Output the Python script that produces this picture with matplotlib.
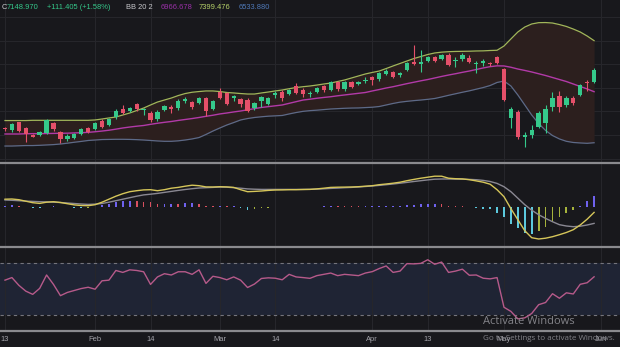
import numpy as np
import matplotlib
matplotlib.use("Agg")
import matplotlib.pyplot as plt
from matplotlib.lines import Line2D


# daily candles
opens = [6656, 6642, 6707, 6656, 6602, 6599, 6614, 6698, 6622, 6563,
         6576, 6608, 6656, 6647, 6721, 6684, 6749, 6817, 6803, 6862,
         6809, 6788, 6732, 6811, 6834, 6831, 6890, 6877, 6868, 6910,
         6817, 6966, 6953, 6910, 6902, 6896, 6826, 6890, 6862, 6936,
         6966, 6947, 7017, 6981, 6947, 6966, 7015, 6981, 7049, 6987,
         7049, 7032, 7055, 7094, 7077, 7117, 7131, 7106, 7150, 7216,
         7201, 7229, 7263, 7241, 7280, 7224, 7241, 7250, 7199, 7207,
         7212, 7258, 7156, 6741, 6797, 6580, 6599, 6670, 6704, 6834,
         6930, 6854, 6910, 6938, 7051, 7045]
highs = [6665, 6699, 6712, 6665, 6608, 6633, 6735, 6712, 6633, 6605,
         6619, 6656, 6665, 6712, 6732, 6743, 6817, 6854, 6839, 6873,
         6831, 6800, 6811, 6854, 6854, 6902, 6924, 6890, 6924, 6924,
         6896, 6995, 6966, 6938, 6916, 6910, 6877, 6933, 6924, 6972,
         6981, 6992, 7038, 6995, 6975, 7009, 7023, 7057, 7057, 7060,
         7057, 7060, 7089, 7100, 7136, 7156, 7142, 7136, 7216, 7362,
         7320, 7272, 7272, 7284, 7292, 7263, 7292, 7278, 7229, 7241,
         7221, 7269, 7165, 6834, 6811, 6627, 6684, 6805, 6854, 6966,
         6975, 6930, 6930, 7032, 7066, 7165]
lows = [6636, 6628, 6628, 6542, 6580, 6591, 6605, 6636, 6529, 6551,
        6563, 6599, 6619, 6642, 6656, 6675, 6737, 6777, 6794, 6805,
        6769, 6709, 6721, 6803, 6788, 6811, 6873, 6817, 6860, 6760,
        6811, 6902, 6854, 6890, 6839, 6797, 6811, 6834, 6854, 6916,
        6890, 6936, 6947, 6924, 6919, 6958, 6966, 6972, 6975, 6975,
        6995, 7023, 7043, 7023, 7060, 7108, 7080, 7094, 7142, 7193,
        7136, 7221, 7221, 7233, 7184, 7178, 7229, 7207, 7122, 7184,
        7187, 7201, 6888, 6656, 6563, 6500, 6571, 6656, 6614, 6805,
        6797, 6834, 6854, 6930, 6975, 7038]
closes = [6648, 6693, 6636, 6608, 6585, 6622, 6726, 6647, 6563, 6593,
          6608, 6647, 6625, 6704, 6670, 6735, 6805, 6783, 6831, 6817,
          6817, 6726, 6797, 6845, 6822, 6890, 6907, 6839, 6916, 6805,
          6888, 6910, 6862, 6930, 6862, 6805, 6868, 6924, 6916, 6953,
          6916, 6981, 6958, 6947, 6958, 7000, 6981, 7049, 6989, 7051,
          7009, 7051, 7066, 7066, 7122, 7145, 7094, 7128, 7207, 7201,
          7218, 7263, 7229, 7275, 7193, 7235, 7278, 7216, 7212, 7229,
          7199, 7212, 6896, 6820, 6585, 6599, 6642, 6788, 6817, 6916,
          6834, 6910, 6873, 7023, 7037.565, 7148.97]

# Bollinger Bands (20, 2)
bb_upper = [6722, 6722, 6722, 6722, 6724, 6724, 6724, 6724, 6724, 6724,
            6724, 6724, 6724, 6727, 6735, 6744, 6752, 6769, 6786, 6807,
            6828, 6854, 6879, 6896, 6913, 6934, 6951, 6962, 6968, 6973,
            6973, 6968, 6960, 6956, 6951, 6947, 6947, 6956, 6964, 6973,
            6981, 6992, 7002, 7009, 7015, 7023, 7032, 7040, 7053, 7066,
            7083, 7100, 7117, 7130, 7142, 7163, 7185, 7206, 7227, 7248,
            7265, 7282, 7295, 7302, 7306, 7308, 7309, 7310, 7312, 7313,
            7316, 7318, 7354, 7414, 7473, 7515, 7541, 7552, 7553, 7549,
            7536, 7520, 7498, 7473, 7439, 7399.476]
bb_basis = [6608, 6608, 6608, 6610, 6611, 6611, 6612, 6613, 6614, 6615,
            6617, 6619, 6622, 6627, 6633, 6640, 6649, 6659, 6667, 6674,
            6680, 6690, 6699, 6707, 6714, 6723, 6731, 6739, 6748, 6758,
            6767, 6778, 6786, 6795, 6803, 6813, 6823, 6833, 6840, 6847,
            6854, 6868, 6882, 6896, 6903, 6911, 6918, 6924, 6932, 6939,
            6946, 6953, 6960, 6973, 6985, 6998, 7009, 7022, 7035, 7047,
            7059, 7070, 7083, 7096, 7108, 7119, 7131, 7142, 7155, 7168,
            7179, 7186, 7185, 7174, 7159, 7147, 7134, 7119, 7104, 7087,
            7070, 7053, 7032, 7011, 6990, 6966.678]
bb_lower = [6506, 6506, 6508, 6510, 6510, 6512, 6515, 6518, 6523, 6530,
            6538, 6545, 6553, 6557, 6561, 6562, 6563, 6563, 6562, 6560,
            6557, 6553, 6549, 6546, 6546, 6550, 6557, 6566, 6578, 6604,
            6633, 6659, 6684, 6705, 6727, 6739, 6748, 6754, 6759, 6762,
            6765, 6778, 6790, 6800, 6806, 6810, 6815, 6820, 6823, 6826,
            6828, 6829, 6832, 6835, 6841, 6854, 6867, 6878, 6885, 6891,
            6896, 6902, 6909, 6922, 6936, 6949, 6962, 6974, 6988, 7002,
            7019, 7045, 7057, 7015, 6939, 6854, 6769, 6697, 6638, 6595,
            6566, 6546, 6536, 6532, 6529, 6533.88]

# MACD (12, 26, 9)
macd_line = [7.5, 7.7, 7.0, 5.5, 4.0, 3.3, 4.5, 5.0, 4.2, 3.0,
             1.8, 1.2, 1.0, 2.0, 4.5, 7.5, 10.5, 13.0, 15.0, 16.0,
             16.8, 17.0, 16.0, 17.0, 18.5, 19.3, 20.5, 21.5, 21.0, 19.8,
             19.7, 20.0, 19.8, 19.3, 17.0, 15.0, 15.3, 15.7, 16.3, 16.7,
             16.8, 17.0, 17.0, 17.2, 17.3, 17.8, 18.5, 19.3, 19.5, 19.6,
             19.7, 20.0, 20.5, 21.0, 22.0, 22.7, 23.5, 24.5, 26.0, 27.3,
             28.5, 29.5, 30.5, 30.5, 28.5, 28.0, 27.8, 27.0, 25.8, 24.5,
             22.5, 17.0, 10.0, -2.0, -13.0, -24.0, -31.0, -32.3, -31.5, -30.0,
             -28.0, -25.8, -23.0, -18.3, -12.5, -5.7]
macd_signal = [6.7, 6.4, 6.0, 5.6, 5.3, 5.0, 4.8, 4.5, 4.2, 3.7,
               3.2, 2.7, 2.3, 2.6, 3.2, 4.5, 6.0, 7.5, 9.0, 10.5,
               11.8, 12.5, 13.3, 14.3, 15.3, 16.3, 17.2, 18.0, 18.7, 19.0,
               19.3, 19.6, 19.5, 19.0, 18.5, 17.8, 17.5, 17.3, 17.3, 17.3,
               17.3, 17.3, 17.3, 17.3, 17.4, 17.6, 17.9, 18.3, 18.6, 19.0,
               19.3, 19.7, 20.2, 20.7, 21.3, 22.0, 22.7, 23.5, 24.3, 25.2,
               26.0, 26.8, 27.5, 27.7, 27.7, 27.6, 27.5, 27.3, 27.0, 26.3,
               25.2, 23.3, 20.0, 15.0, 8.5, 2.0, -3.5, -8.0, -11.7, -15.0,
               -18.0, -19.3, -20.0, -19.5, -18.3, -16.7]

# RSI (14)
rsi = [57, 59, 53, 48.5, 46, 50.6, 61, 53.7, 45, 47.5,
       49, 50.5, 51.5, 50, 56.5, 57, 64.5, 63, 65, 64.5,
       63.5, 53.7, 59.5, 62, 61, 63.5, 63.5, 61.5, 65, 54.5,
       60, 59, 57.3, 59.5, 57, 51.3, 54, 58.3, 58.8, 58.5,
       57.3, 61.5, 59.5, 59, 58.4, 60.5, 61.5, 62.5, 60.5, 61.5,
       61, 60.5, 62.5, 63.6, 66, 68, 63, 64, 69.8, 69.6,
       70, 72.8, 69.3, 71, 63, 64, 65.5, 60.8, 61, 58.5,
       58, 59, 36, 32.8, 27, 27.8, 31.2, 38, 39.7, 46.5,
       43, 47.2, 46.3, 53.8, 55, 59.6]

tick_pos = [0, 13, 21, 31, 39, 53, 61, 72, 86]
tick_lab = ["13", "Feb", "14", "Mar", "14", "Apr", "13", "May", "Jun"]


BG = "#18181c"
GRID = "#26262b"
UP = "#35c98b"
DOWN = "#e5506a"
W, H = 620, 347

o = np.array(opens, dtype=float)
h = np.array(highs, dtype=float)
l = np.array(lows, dtype=float)
c = np.array(closes, dtype=float)
x = np.arange(len(c))

fig = plt.figure(figsize=(W / 100, H / 100), dpi=100)
fig.patch.set_facecolor(BG)


def pane(top, bottom):
    ax = fig.add_axes([0, 1 - bottom / H, 1, (bottom - top) / H])
    ax.set_facecolor(BG)
    for s in ax.spines.values():
        s.set_visible(False)
    ax.set_xlim(-0.72, 88.74)
    ax.set_xticks(tick_pos)
    ax.tick_params(length=0, labelbottom=False, labelleft=False)
    ax.grid(axis="x", color=GRID, lw=0.8)
    ax.set_axisbelow(True)
    return ax


# price pane
ax1 = pane(0, 162)
ax1.set_ylim(6370.5, 7744.3)
ax1.set_yticks(np.arange(6400, 7800, 200))
ax1.grid(axis="y", color=GRID, lw=0.8)

ax1.fill_between(x, bb_lower, bb_upper, color="#2c1f1e", lw=0, zorder=1)
ax1.plot(x, bb_upper, color="#a2b65a", lw=0.9, zorder=2)
ax1.plot(x, bb_basis, color="#b23aa8", lw=1.0, zorder=2)
ax1.plot(x, bb_lower, color="#5d6a88", lw=0.9, zorder=2)

up = c >= o
col = np.where(up, UP, DOWN)
body_lo = np.minimum(o, c)
body_h = np.maximum(np.abs(c - o), 4)
ax1.vlines(x, l, h, colors=col, lw=0.8, zorder=3)
ax1.bar(x, body_h, bottom=body_lo, width=0.62, color=col, lw=0, zorder=4)

# MACD pane
ax2 = pane(164, 246)
ax2.set_ylim(-39.3, 42.7)
m = np.array(macd_line)
s = np.array(macd_signal)
hist = m - s
prev = np.concatenate(([hist[0]], hist[:-1]))
hcol = []
for hv, pv in zip(hist, prev):
    if hv >= 0:
        hcol.append("#6f62ee" if hv >= pv else "#d9505f")
    else:
        hcol.append("#5cc9dd" if hv < pv else "#a6b33c")
ax2.bar(x, hist, width=0.25, color=hcol, lw=0, zorder=2)
ax2.plot(x, s, color="#8a8892", lw=1.0, zorder=3)
ax2.plot(x, m, color="#d6c65a", lw=1.0, zorder=4)

# RSI pane
ax3 = pane(248, 330)
ax3.set_ylim(18.4, 81.9)
ax3.axhspan(30, 70, color="#1f2434", lw=0, zorder=0)
for lvl in (30, 70):
    ax3.axhline(lvl, color="#74747c", lw=0.8, dashes=(3, 3), zorder=1)
ax3.plot(x, rsi, color="#b65a8a", lw=1.0, zorder=3)
ax3.set_xticklabels(tick_lab)
ax3.tick_params(labelbottom=True, pad=4, labelsize=5.4, labelcolor="#a3a3aa")
for t in ax3.get_xticklabels():
    t.set_fontfamily("Liberation Sans")

# pane separators
for yy in (163, 247, 331):
    fig.add_artist(Line2D([0, 1], [1 - yy / H, 1 - yy / H],
                          transform=fig.transFigure, color="#8a8a8e", lw=1.6))

# header legend
chg = c[-1] - c[-2]
pct = chg / c[-2] * 100
legend = [
    (1.5, "C", "#d0d0d4"),
    (7, f"{c[-1]:.3f}", UP),
    (47, f"{chg:+.3f} ({pct:+.2f}%)", UP),
    (126, "BB 20 2", "#c8c8cc"),
    (161, f"{bb_basis[-1]:.3f}", "#9a30a8"),
    (199, f"{bb_upper[-1]:.3f}", "#b7d36a"),
    (239, f"{bb_lower[-1]:.3f}", "#4f79b8"),
]
for px, txt, tc in legend:
    fig.text(px / W, 1 - 7.3 / H, txt, color=tc, fontsize=5.4,
             family="Liberation Sans", va="center", ha="left")

# system watermark
fig.text(483 / W, 1 - 322 / H, "Activate Windows", color="#8e8e94",
         fontsize=8, family="Open Sans", va="center", ha="left", alpha=0.9)
fig.text(483 / W, 1 - 339 / H, "Go to Settings to activate Windows.",
         color="#8e8e94", fontsize=5.8, family="Open Sans", va="center",
         ha="left", alpha=0.9)

fig.savefig("out.png", dpi=100, facecolor=BG)
